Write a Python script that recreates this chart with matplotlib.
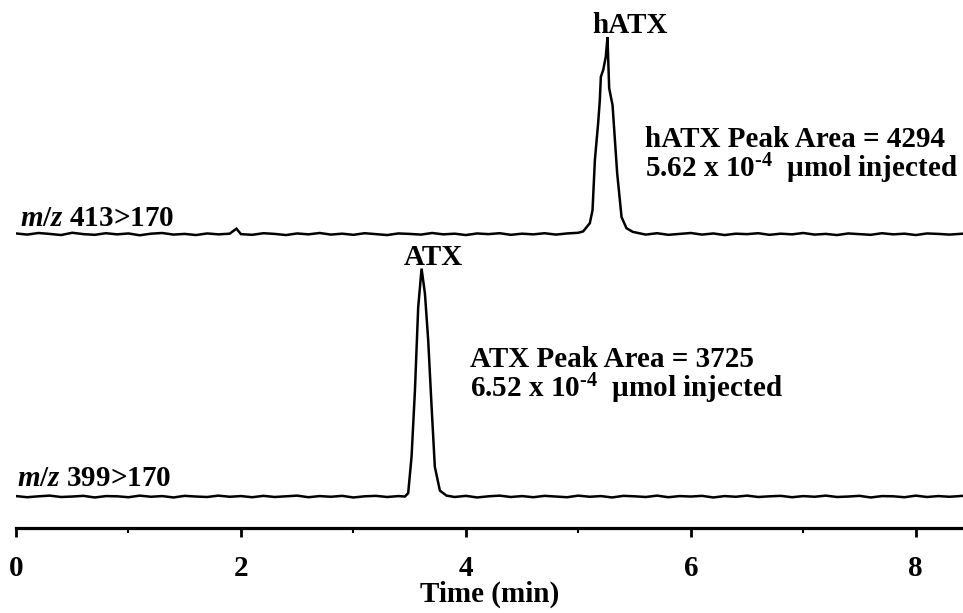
import matplotlib
matplotlib.use("Agg")
import matplotlib.pyplot as plt
import numpy as np

plt.rcParams['font.family'] = ['Liberation Serif', 'DejaVu Serif']
plt.rcParams['font.weight'] = 'bold'
plt.rcParams['font.size'] = 21
plt.rcParams['mathtext.fontset'] = 'custom'
plt.rcParams['mathtext.rm'] = 'Liberation Serif:bold'
plt.rcParams['mathtext.bf'] = 'Liberation Serif:bold'
plt.rcParams['mathtext.it'] = 'Liberation Serif:bold:italic'

# ---- data: hATX trace, m/z 413>170 (relative intensity, ATX peak = 100) ----
hatx_time = [0.00, 0.10, 0.20, 0.30, 0.40, 0.50, 0.60, 0.70, 0.80, 0.90,
             1.00, 1.10, 1.20, 1.30, 1.40, 1.50, 1.60, 1.70, 1.80, 1.90,
             1.96, 2.00, 2.10, 2.20, 2.30, 2.40, 2.50, 2.60, 2.70, 2.80,
             2.90, 3.00, 3.10, 3.20, 3.30, 3.40, 3.50, 3.60, 3.70, 3.80,
             3.90, 4.00, 4.10, 4.20, 4.30, 4.40, 4.50, 4.60, 4.70, 4.80,
             4.90, 5.00, 5.043, 5.102, 5.126, 5.147, 5.176, 5.191, 5.200,
             5.221, 5.244, 5.259, 5.274, 5.304, 5.345, 5.384, 5.428, 5.484,
             5.55, 5.60, 5.70, 5.80, 5.90, 6.00, 6.10, 6.20, 6.30, 6.40,
             6.50, 6.60, 6.70, 6.80, 6.90, 7.00, 7.10, 7.20, 7.30, 7.40,
             7.50, 7.60, 7.70, 7.80, 7.90, 8.00, 8.10, 8.20, 8.30, 8.42]
hatx_int = [0.3, -0.2, 0.5, 0.1, -0.4, 0.6, 0.0, -0.3, 0.4, -0.1,
            0.3, -0.5, 0.2, 0.5, -0.2, 0.1, -0.4, 0.3, -0.1, 0.2,
            2.4, 0.0, -0.3, 0.4, 0.1, -0.4, 0.3, -0.1, 0.5, -0.2,
            0.2, -0.3, 0.4, 0.0, -0.4, 0.3, 0.1, -0.2, 0.5, -0.1,
            0.2, -0.4, 0.3, 0.0, 0.4, -0.3, 0.2, -0.1, 0.4, -0.2,
            0.3, 0.6, 1.2, 4.8, 10.5, 32.5, 48.7, 58.8, 69.0,
            72.0, 77.8, 86.4, 64.0, 56.6, 26.8, 7.5, 2.6, 1.0,
            0.3, -0.2, 0.4, -0.3, 0.1, 0.5, -0.2, 0.3, -0.4, 0.2,
            0.0, 0.4, -0.3, 0.2, -0.1, 0.5, -0.2, 0.1, -0.4, 0.3,
            0.0, -0.3, 0.4, -0.1, 0.2, -0.4, 0.3, 0.1, -0.2, 0.2]

# ---- data: ATX trace, m/z 399>170 ----
atx_time = [0.00, 0.10, 0.20, 0.30, 0.40, 0.50, 0.60, 0.70, 0.80, 0.90,
            1.00, 1.10, 1.20, 1.30, 1.40, 1.50, 1.60, 1.70, 1.80, 1.90,
            2.00, 2.10, 2.20, 2.30, 2.40, 2.50, 2.60, 2.70, 2.80, 2.90,
            3.00, 3.10, 3.20, 3.30, 3.40, 3.458, 3.487, 3.517, 3.547, 3.576,
            3.606, 3.636, 3.665, 3.695, 3.724, 3.769, 3.828, 3.90, 4.00,
            4.10, 4.20, 4.30, 4.40, 4.50, 4.60, 4.70, 4.80, 4.90, 5.00,
            5.10, 5.20, 5.30, 5.40, 5.50, 5.60, 5.70, 5.80, 5.90, 6.00,
            6.10, 6.20, 6.30, 6.40, 6.50, 6.60, 6.70, 6.80, 6.90, 7.00,
            7.10, 7.20, 7.30, 7.40, 7.50, 7.60, 7.70, 7.80, 7.90, 8.00,
            8.10, 8.20, 8.30, 8.42]
atx_int = [0.2, -0.3, 0.1, 0.4, -0.2, 0.0, 0.3, -0.4, 0.2, 0.1,
           -0.3, 0.4, -0.1, 0.2, -0.4, 0.3, 0.0, -0.2, 0.4, -0.1,
           0.2, -0.3, 0.3, -0.2, 0.1, 0.4, -0.3, 0.2, -0.1, 0.3,
           -0.4, 0.1, 0.3, -0.2, 0.2, 0.0, 1.5, 17.5, 46.5, 83.0,
           100.0, 89.0, 68.5, 39.5, 13.0, 2.6, 0.4, -0.2, 0.3,
           -0.4, 0.1, 0.4, -0.2, 0.2, -0.3, 0.3, 0.0, -0.3, 0.4,
           -0.1, 0.2, -0.4, 0.3, 0.1, -0.2, 0.4, -0.3, 0.2, 0.0,
           0.3, -0.4, 0.2, -0.1, 0.4, -0.2, 0.1, 0.3, -0.3, 0.2,
           -0.1, 0.4, -0.2, 0.0, 0.3, -0.4, 0.2, 0.1, -0.3, 0.4,
           -0.2, 0.2, -0.1, 0.3]

x_ticks = [0, 2, 4, 6, 8]
x_minor = [1, 3, 5, 7]

# ---- layout ----
TOP_OFFSET = 115.1

fig = plt.figure(figsize=(9.63, 6.13), dpi=100)
ax = fig.add_axes([16 / 963, 85 / 613, 947 / 963, 528 / 613])

ax.plot(atx_time, atx_int, color='black', lw=1.8, solid_joinstyle='miter')
ax.plot(hatx_time, np.array(hatx_int) + TOP_OFFSET, color='black', lw=1.8,
        solid_joinstyle='miter')

ax.set_xlim(0, 8.42)
ax.set_ylim(-13.8, 217.8)

for s in ['left', 'right', 'top']:
    ax.spines[s].set_visible(False)
ax.spines['bottom'].set_linewidth(2.3)
ax.set_yticks([])
ax.set_xticks(x_ticks)
ax.set_xticklabels([str(v) for v in x_ticks])
ax.set_xticks(x_minor, minor=True)
ax.tick_params(axis='x', which='major', direction='out', length=6.5, width=2.0, pad=13)
ax.tick_params(axis='x', which='minor', direction='out', length=3.3, width=1.5)
ax.set_xlabel('Time (min)', fontweight='bold', labelpad=-1)

# text annotations
ax.text(5.12, 203.3, 'hATX', ha='left', va='baseline', fontweight='bold')
ax.text(3.449, 101.5, 'ATX', ha='left', va='baseline', fontweight='bold')
ax.text(0.036, 118.6, r'$\mathit{m/z}$ 413>170', ha='left', va='baseline', fontweight='bold')
ax.text(0.006, 4.6, r'$\mathit{m/z}$ 399>170', ha='left', va='baseline', fontweight='bold')
ax.text(5.591, 153.3, 'hATX Peak Area = 4294', ha='left', va='baseline', fontweight='bold')
ax.text(5.591, 140.1, r'5.62 x 10$^{\text{-4}}$  µmol injected', ha='left', va='baseline', fontweight='bold')
ax.text(4.036, 56.9, 'ATX Peak Area = 3725', ha='left', va='baseline', fontweight='bold')
ax.text(4.036, 43.6, r'6.52 x 10$^{\text{-4}}$  µmol injected', ha='left', va='baseline', fontweight='bold')

fig.savefig('out.png', dpi=100)
